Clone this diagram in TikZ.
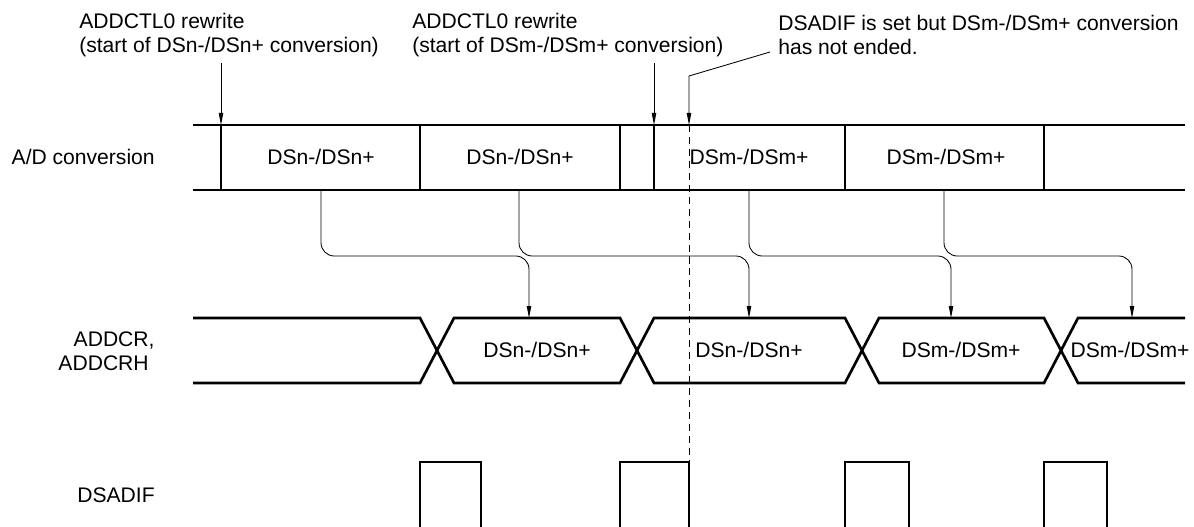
\documentclass[tikz,border=0pt]{standalone}
\usepackage{fontspec}
\setmainfont{Liberation Sans}
\usetikzlibrary{arrows.meta,positioning}

\begin{document}
\begin{tikzpicture}[
  x=0.025cm,y=-0.025cm,
  font=\fontsize{15}{17}\selectfont,
  signal/.style={line width=1.9pt},
  flow/.style={-{Triangle[length=3mm,width=1.1mm]},line width=0.6pt,
    rounded corners=0.33cm},
  pointer/.style={-{Triangle[length=3mm,width=1.1mm]},line width=0.6pt},
  marker/.style={line width=0.6pt,dash pattern=on 5pt off 3.5pt},
  note/.style={align=left,anchor=west,inner sep=0pt},
  rowlabel/.style={align=right,anchor=east,inner sep=0pt},
  value/.style={inner sep=0pt}
]
\useasboundingbox (0,0) rectangle (1194,526);

% annotations
\node[note] (rewriten) at (79,35) {ADDCTL0 rewrite\\(start of DSn-/DSn+ conversion)};
\node[note] (rewritem) at (412,35) {ADDCTL0 rewrite\\(start of DSm-/DSm+ conversion)};
\node[note] (flagnote) at (778,35) {DSADIF is set but DSm-/DSm+ conversion\\has not ended.};

% row labels
\node[rowlabel] (adlabel) at (155,157) {A/D conversion};
\node[rowlabel] (crlabel) at (149,351) {ADDCR\rlap{,}\\ADDCRH};
\node[rowlabel] (iflabel) at (155,495) {DSADIF};

% A/D conversion row
\draw[signal] (193,125) -- (1185,125);
\draw[signal] (193,190) -- (1185,190);
\foreach \x in {221,420,620,654,845,1044}
  \draw[signal] (\x,125) -- (\x,190);
\node[value] (adone) at (321,157) {DSn-/DSn+};
\node[value] (adtwo) at (520,157) {DSn-/DSn+};
\node[value] (adthree) at (749,157) {DSm-/DSm+};
\node[value] (adfour) at (946,157) {DSm-/DSm+};

% ADDCR, ADDCRH row
\draw[signal] (193,318) -- (420,318) -- (454,383) -- (620,383) -- (654,318)
  -- (845,318) -- (879,383) -- (1044,383) -- (1078,318) -- (1185,318);
\draw[signal] (193,383) -- (420,383) -- (454,318) -- (620,318) -- (654,383)
  -- (845,383) -- (879,318) -- (1044,318) -- (1078,383) -- (1185,383);
\node[value] (crone) at (537,350) {DSn-/DSn+};
\node[value] (crtwo) at (749,350) {DSn-/DSn+};
\node[value] (crthree) at (961,350) {DSm-/DSm+};
\node[value] (crfour) at (1130,350) {DSm-/DSm+};

% DSADIF pulses
\foreach \a/\b in {420/481,620/689,845/909,1044/1107}
  \draw[signal] (\a,527) -- (\a,462) -- (\b,462) -- (\b,527);

% transfer of results
\foreach \s/\t in {321/529,519/749,749/951,944/1132}
  \draw[flow] (\s,190) -- (\s,256) -- (\t,256) -- (\t,318);

% pointers from the notes
\coordinate (startn) at (221,125);
\coordinate (startm) at (654,125);
\coordinate (flagpt) at (689,125);
\draw[pointer] (startn |- 0,63) -- (startn);
\draw[pointer] (startm |- 0,63) -- (startm);
\draw[pointer] (770,52) -- (689,76) -- (flagpt);
\draw[marker] (flagpt) -- (689,462);
\end{tikzpicture}
\end{document}
